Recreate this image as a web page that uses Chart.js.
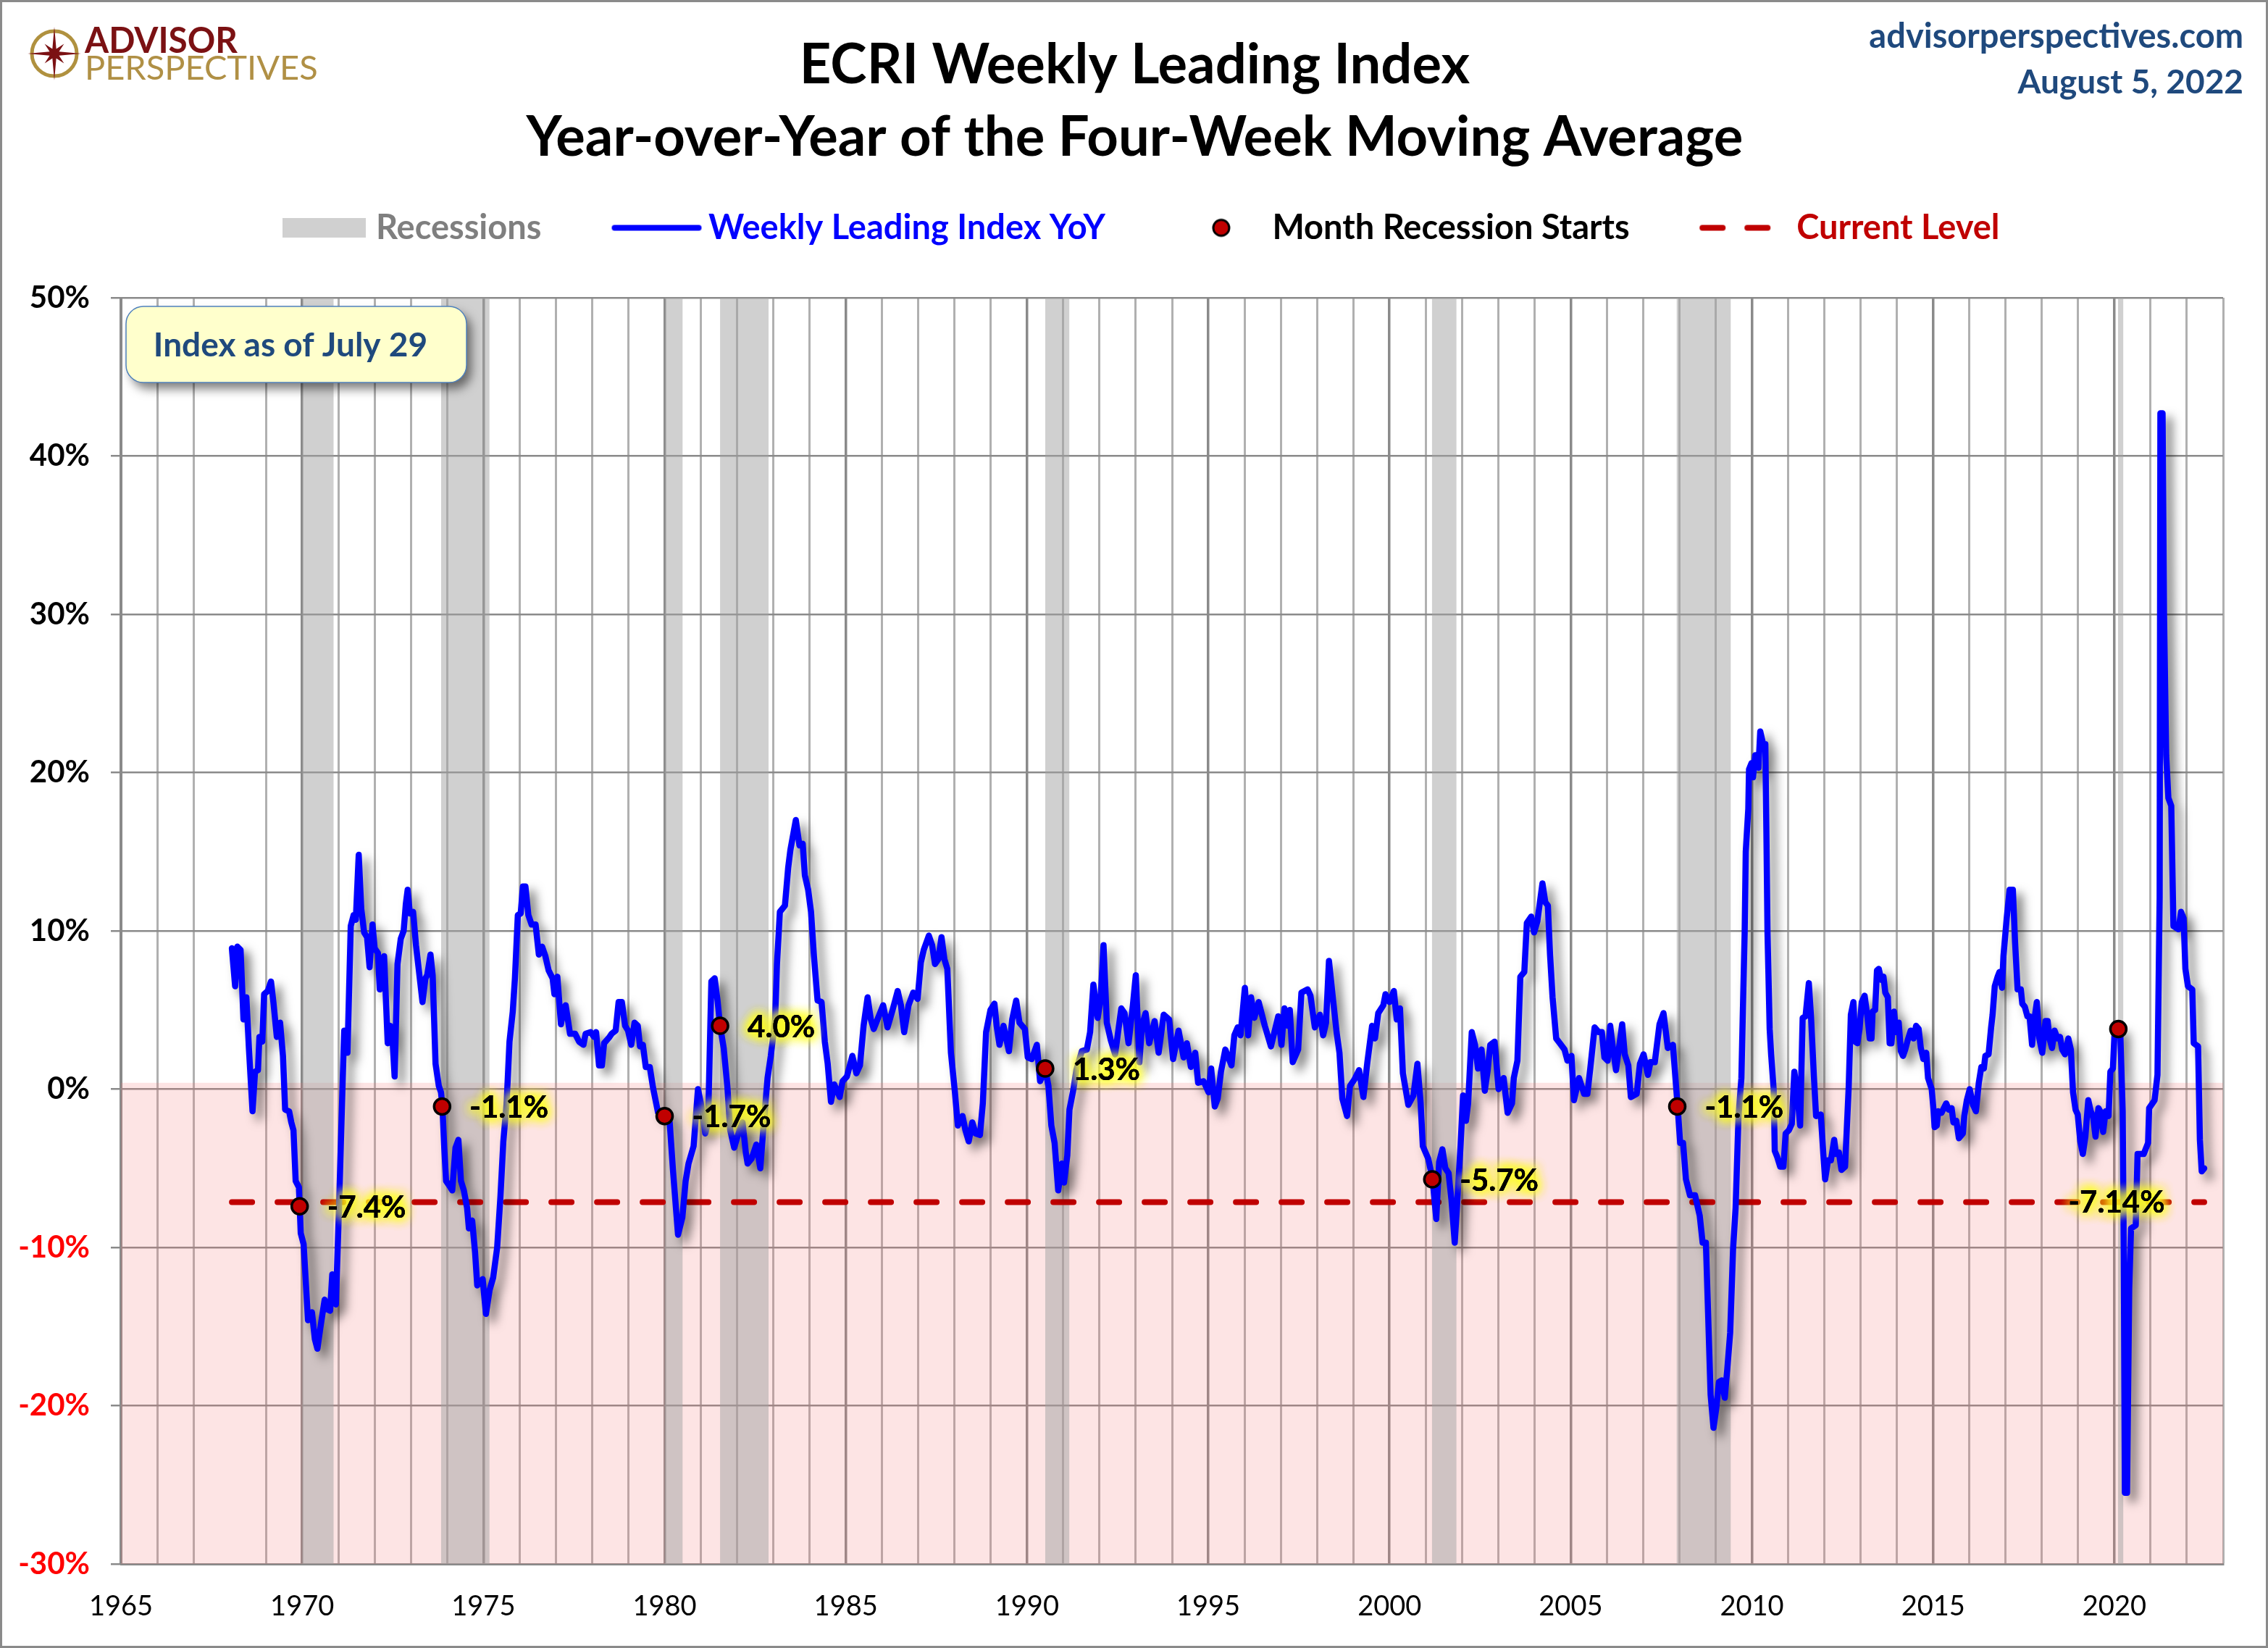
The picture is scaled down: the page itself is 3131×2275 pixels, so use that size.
<!DOCTYPE html>
<html><head><meta charset="utf-8">
<style>html,body{margin:0;padding:0;background:#fff}canvas{display:block}</style>
<script src="https://cdn.jsdelivr.net/npm/chart.js@4/dist/chart.umd.min.js"></script>
</head><body>
<canvas id="c" width="3131" height="2275"></canvas>
<script>
const titleLines = ['ECRI Weekly Leading Index', 'Year-over-Year of the Four-Week Moving Average'];
const legendNames = ['Recessions', 'Weekly Leading Index YoY', 'Month Recession Starts', 'Current Level'];
const noteText = 'Index as of July 29';
const siteLines = ['advisorperspectives.com', 'August 5, 2022'];
const logoLines = ['ADVISOR', 'PERSPECTIVES'];

const recessionStarts = [1970.0, 1973.83, 1980.0, 1981.53, 1990.5, 2001.17, 2007.92, 2020.1];
const recessionEnds   = [1970.87, 1975.17, 1980.5, 1982.87, 1991.17, 2001.85, 2009.42, 2020.25];

const markerYears  = [1969.93, 1973.86, 1980.0, 1981.53, 1990.5, 2001.18, 2007.94, 2020.11];
const markerValues = [-7.4, -1.1, -1.7, 4.0, 1.3, -5.7, -1.1, 3.8];
const markerLabels = ['-7.4%', '-1.1%', '-1.7%', '4.0%', '1.3%', '-5.7%', '-1.1%', ''];

const currentLevel = -7.14;
const currentLabel = '-7.14%';
const currentSpan = [1968.06, 2022.48];

const wliYears = [
1968.06,1968.15,1968.21,1968.30,1968.38,1968.46,1968.53,1968.63,1968.70,1968.78,1968.82,1968.90,1968.95,
1969.05,1969.14,1969.21,1969.30,1969.39,1969.47,1969.53,1969.64,1969.70,1969.76,1969.82,1969.91,1969.96,
1970.04,1970.16,1970.27,1970.35,1970.42,1970.50,1970.62,1970.68,1970.77,1970.83,1970.93,
1971.02,1971.14,1971.16,1971.25,1971.34,1971.42,1971.48,1971.56,1971.63,1971.71,1971.79,1971.86,1971.94,1972.00,
1972.09,1972.14,1972.26,1972.36,1972.43,1972.48,1972.55,1972.63,1972.72,1972.80,1972.86,1972.91,1972.97,
1973.06,1973.14,1973.22,1973.32,1973.40,1973.45,1973.54,1973.60,1973.68,1973.77,1973.83,1973.87,1973.92,1973.97,
1974.06,1974.14,1974.23,1974.31,1974.38,1974.46,1974.55,1974.60,1974.69,1974.77,1974.83,1974.98,
1975.07,1975.17,1975.27,1975.38,1975.47,1975.55,1975.64,1975.72,1975.81,1975.87,1975.95,
1976.03,1976.09,1976.16,1976.24,1976.33,1976.44,1976.53,1976.62,1976.71,1976.80,1976.91,1976.96,
1977.04,1977.14,1977.22,1977.27,1977.39,1977.53,1977.64,1977.76,1977.82,1977.96,
1978.05,1978.11,1978.19,1978.27,1978.33,1978.48,1978.54,1978.65,1978.73,1978.82,1978.91,1978.99,
1979.08,1979.17,1979.26,1979.32,1979.40,1979.48,1979.59,1979.68,1979.82,
1980.03,1980.14,1980.23,1980.37,1980.49,1980.58,1980.66,1980.80,1980.92,
1981.00,1981.12,1981.20,1981.29,1981.38,1981.46,1981.53,1981.63,1981.73,1981.81,1981.92,
1982.01,1982.15,1982.24,1982.29,1982.40,1982.53,1982.64,1982.72,1982.84,1982.93,
1983.05,1983.10,1983.18,1983.32,1983.41,1983.47,1983.62,1983.72,1983.81,1983.87,1983.96,
1984.04,1984.12,1984.22,1984.33,1984.42,1984.50,1984.59,1984.68,1984.83,1984.91,
1985.03,1985.18,1985.29,1985.39,1985.49,1985.60,1985.69,1985.77,1985.89,
1986.03,1986.15,1986.29,1986.43,1986.52,1986.61,1986.73,1986.86,1986.98,
1987.07,1987.15,1987.29,1987.38,1987.46,1987.55,1987.64,1987.72,1987.80,1987.90,
1988.01,1988.09,1988.22,1988.30,1988.39,1988.49,1988.58,1988.70,1988.78,1988.87,1988.99,
1989.10,1989.16,1989.24,1989.35,1989.50,1989.59,1989.70,1989.79,1989.94,
1990.02,1990.13,1990.27,1990.36,1990.50,1990.59,1990.67,1990.76,1990.86,1990.96,
1991.02,1991.11,1991.17,1991.28,1991.36,1991.51,1991.65,1991.74,1991.83,1991.95,
1992.03,1992.11,1992.20,1992.31,1992.43,1992.60,1992.69,1992.80,1992.92,
1993.00,1993.10,1993.17,1993.27,1993.37,1993.52,1993.63,1993.77,1993.92,
1994.03,1994.18,1994.32,1994.41,1994.52,1994.64,1994.72,1994.87,
1995.01,1995.08,1995.18,1995.26,1995.35,1995.47,1995.64,1995.72,1995.81,1995.89,
1996.01,1996.10,1996.18,1996.27,1996.39,1996.56,1996.73,1996.93,
1997.02,1997.10,1997.19,1997.25,1997.33,1997.48,1997.57,1997.74,1997.82,1997.94,
1998.08,1998.17,1998.25,1998.33,1998.45,1998.54,1998.62,1998.70,1998.83,1998.91,
1999.03,1999.16,1999.28,1999.39,1999.52,1999.60,1999.69,1999.83,1999.89,
2000.00,2000.12,2000.20,2000.29,2000.37,2000.52,2000.66,2000.77,2000.86,2000.92,
2001.07,2001.19,2001.29,2001.37,2001.46,2001.54,2001.63,2001.71,2001.80,2001.86,2001.96,
2002.03,2002.11,2002.17,2002.27,2002.36,2002.44,2002.54,2002.63,2002.71,2002.78,2002.90,
2003.01,2003.15,2003.26,2003.38,2003.43,2003.53,2003.61,2003.72,2003.79,2003.91,2003.99,
2004.08,2004.22,2004.30,2004.37,2004.43,2004.50,2004.60,2004.70,2004.83,2004.91,
2005.02,2005.09,2005.23,2005.37,2005.46,2005.54,2005.66,2005.77,2005.86,2005.93,
2006.02,2006.09,2006.17,2006.25,2006.42,2006.49,2006.59,2006.66,2006.82,2006.91,
2007.01,2007.13,2007.20,2007.32,2007.45,2007.56,2007.68,2007.82,2007.95,
2008.02,2008.10,2008.18,2008.29,2008.43,2008.56,2008.64,2008.73,2008.79,2008.86,2008.94,
2009.02,2009.09,2009.17,2009.25,2009.32,2009.40,2009.48,2009.55,2009.63,2009.71,2009.75,2009.80,2009.83,2009.90,2009.92,2009.99,
2010.03,2010.09,2010.18,2010.23,2010.31,2010.37,2010.40,2010.43,2010.49,2010.53,2010.60,2010.63,2010.70,2010.78,2010.87,2010.93,
2011.02,2011.10,2011.17,2011.25,2011.33,2011.40,2011.48,2011.57,2011.63,2011.71,2011.77,2011.90,2011.97,
2012.02,2012.10,2012.18,2012.27,2012.32,2012.40,2012.47,2012.57,2012.67,2012.73,2012.80,2012.85,2012.91,2012.97,
2013.03,2013.11,2013.19,2013.25,2013.30,2013.33,2013.40,2013.45,2013.50,2013.57,2013.63,2013.68,2013.75,2013.80,2013.85,2013.92,2013.98,
2014.05,2014.11,2014.17,2014.23,2014.30,2014.38,2014.46,2014.53,2014.60,2014.66,2014.73,2014.81,2014.86,2014.96,
2015.01,2015.04,2015.10,2015.14,2015.23,2015.36,2015.43,2015.51,2015.56,2015.64,2015.71,2015.82,2015.86,2015.93,
2016.01,2016.10,2016.18,2016.26,2016.33,2016.40,2016.44,2016.53,2016.60,2016.64,2016.70,2016.78,2016.83,2016.90,2016.94,
2017.03,2017.11,2017.20,2017.26,2017.33,2017.42,2017.46,2017.53,2017.60,2017.66,2017.73,2017.80,2017.86,2017.93,
2018.01,2018.10,2018.16,2018.21,2018.28,2018.35,2018.43,2018.50,2018.56,2018.64,2018.73,2018.80,2018.86,2018.93,2018.99,
2019.06,2019.13,2019.20,2019.28,2019.35,2019.41,2019.48,2019.56,2019.61,2019.69,2019.76,2019.84,2019.89,2019.96,
2020.01,2020.11,2020.16,2020.23,2020.26,2020.29,2020.35,2020.41,2020.46,2020.59,2020.64,2020.81,2020.93,2020.96,
2021.11,2021.19,2021.25,2021.27,2021.33,2021.37,2021.43,2021.49,2021.57,2021.63,2021.77,2021.84,2021.91,2021.96,
2022.03,2022.15,2022.19,2022.31,2022.36,2022.41,2022.48
];
const wliValues = [
8.9,6.5,9.0,8.8,4.4,5.8,2.6,-1.4,1.1,1.2,3.3,3.0,6.0,
6.2,6.8,5.4,3.3,4.2,2.1,-1.3,-1.4,-2.1,-2.6,-5.8,-6.2,-9.1,
-9.8,-14.6,-14.1,-15.8,-16.4,-15.1,-13.3,-13.9,-14.0,-11.7,-13.6,
-7.2,2.3,3.7,2.3,10.3,11.0,10.7,14.8,11.4,9.9,9.6,7.7,10.4,8.9,
8.6,6.3,8.4,2.9,4.0,3.7,0.8,7.9,9.5,10.0,11.7,12.6,11.1,
11.2,9.1,7.5,5.5,7.0,7.2,8.5,7.2,1.6,0.2,-0.2,-1.1,-3.7,-5.8,
-6.1,-6.4,-3.7,-3.2,-5.8,-6.4,-7.5,-8.8,-8.3,-10.3,-12.4,-12.0,
-14.2,-12.7,-11.9,-10.0,-6.8,-3.3,-0.9,3.0,4.9,7.0,11.0,
11.1,12.8,12.8,11.0,10.4,10.4,8.5,9.0,8.4,7.5,7.0,6.0,
7.1,4.1,5.1,5.3,3.5,3.5,3.0,2.8,3.5,3.6,
3.3,3.6,1.5,1.5,2.9,3.3,3.5,3.7,5.5,5.5,4.0,3.7,
2.8,4.2,4.0,2.7,2.8,1.4,1.4,0.1,-1.5,
-1.6,-2.1,-5.1,-9.2,-8.1,-5.8,-4.7,-3.6,0.0,
-0.9,-2.8,-2.1,6.8,7.0,5.6,4.0,2.6,0.2,-2.6,-3.7,
-3.0,-2.1,-4.0,-4.7,-4.4,-3.5,-5.0,-2.6,0.7,2.1,
4.4,7.9,11.2,11.6,14.0,15.1,17.0,15.4,15.5,13.5,12.6,
11.2,8.4,5.6,5.5,3.0,1.6,-0.8,0.3,-0.5,0.5,
0.8,2.1,1.0,1.5,4.0,5.8,4.4,3.8,4.5,
5.3,3.9,5.0,6.2,5.3,3.6,5.3,6.1,5.7,
8.0,8.8,9.7,9.1,7.9,8.2,9.6,8.2,7.6,2.3,
-0.2,-2.3,-1.7,-2.6,-3.3,-2.1,-2.8,-2.9,-0.9,3.6,5.0,
5.4,4.0,2.8,4.0,2.4,4.4,5.6,4.2,3.8,
2.0,1.9,2.8,0.5,1.3,0.2,-2.3,-3.4,-6.4,-4.7,
-5.9,-4.2,-1.3,0.0,1.2,2.4,2.5,3.6,6.6,4.5,
5.7,9.1,4.2,3.1,2.2,5.1,4.8,2.9,5.3,
7.2,1.7,4.0,4.8,2.9,4.3,2.3,4.7,4.4,
1.9,3.7,2.0,2.9,1.4,2.3,0.4,0.5,
-0.2,1.3,-1.1,-0.6,1.1,2.5,1.5,3.4,3.9,3.4,
6.4,3.4,5.8,4.5,5.5,4.0,2.7,4.6,
2.8,5.1,4.0,5.0,1.7,2.5,6.1,6.3,5.9,3.9,
4.7,3.4,4.2,8.1,5.5,3.6,2.3,-0.6,-1.7,0.2,
0.6,1.2,-0.5,1.7,4.0,3.2,4.8,5.3,6.0,
5.5,6.2,4.4,5.1,1.0,-1.0,-0.4,1.6,-0.9,-3.6,
-4.4,-5.7,-8.2,-4.6,-3.8,-5.0,-5.3,-7.0,-9.7,-7.5,-3.6,
-0.4,-2.0,-0.9,3.6,2.8,1.3,2.5,-0.1,1.2,2.8,3.0,
0.0,0.7,-1.5,-0.9,0.7,1.8,7.1,7.4,10.5,10.9,9.9,
10.6,13.0,11.8,11.6,8.5,5.8,3.2,2.9,2.5,1.8,
2.1,-0.7,0.7,-0.3,-0.3,1.3,3.9,3.6,3.6,2.0,
1.8,4.0,2.5,1.2,4.1,2.2,1.5,-0.5,-0.3,1.6,
2.2,0.9,1.7,1.7,4.1,4.8,2.6,2.8,-1.1,
-3.4,-3.4,-5.7,-6.7,-6.7,-8.0,-9.7,-9.7,-14.1,-19.3,-21.4,
-20.1,-18.5,-18.4,-19.5,-17.7,-15.4,-10.1,-7.5,-1.7,0.7,4.9,9.9,15.0,17.7,20.2,20.6,
19.7,21.1,20.3,22.6,21.8,21.8,16.1,9.9,3.8,2.2,0.0,-3.9,-4.3,-4.9,-4.9,-2.8,
-2.6,-2.2,1.1,-0.2,-2.3,4.5,4.6,6.7,4.6,0.8,-1.7,-1.6,-4.1,
-5.7,-4.5,-4.5,-3.2,-4.1,-4.0,-5.1,-4.9,0.1,4.7,5.5,3.0,2.9,3.8,
5.5,5.9,4.5,3.2,3.2,4.9,5.0,7.5,7.6,6.9,7.1,6.1,5.8,2.9,2.9,4.9,3.6,
4.2,2.4,2.1,2.5,3.1,3.7,3.2,4.0,3.8,2.6,1.9,2.3,0.7,0.0,
-1.3,-2.4,-2.3,-1.4,-1.5,-0.9,-1.3,-1.2,-2.1,-2.0,-3.1,-2.8,-1.7,-0.7,
0.0,-1.0,-1.4,0.4,1.4,1.3,2.1,2.2,3.9,4.7,6.5,7.1,7.4,6.4,8.4,
10.8,12.6,12.6,9.3,6.3,6.3,5.4,5.2,4.6,4.6,2.8,4.5,5.5,3.2,
2.3,4.3,4.3,3.2,2.6,3.7,3.2,3.3,2.5,2.2,3.2,2.5,-0.2,-1.3,-1.6,
-3.3,-4.1,-3.0,-0.7,-1.4,-1.7,-3.0,-1.2,-1.4,-2.7,-1.4,-1.7,1.1,1.3,
3.8,3.8,3.8,-1.4,-10.4,-25.5,-25.5,-12.6,-8.8,-8.6,-4.1,-4.1,-3.4,-1.2,
-0.7,0.9,12.1,42.7,42.7,30.1,21.1,18.4,17.9,10.3,10.1,11.2,10.8,7.6,
6.5,6.3,2.9,2.7,-3.2,-5.2,-5.0
];

const pinkTop = 0.4;
const xRange = [1965, 2023];
const yRange = [-30, 50];

const recessionPoints = [];
recessionStarts.forEach((s, i) => {
  recessionPoints.push({x: s, y: yRange[1]}, {x: recessionEnds[i], y: yRange[1]}, {x: recessionEnds[i], y: null});
});

function swatch(w, h, draw) {
  const c = document.createElement('canvas');
  c.width = w; c.height = h;
  draw(c.getContext('2d'), w, h);
  return c;
}
const swatches = [
  swatch(123, 27, (g, w, h) => { g.fillStyle = '#d0d0d0'; g.fillRect(8, 0, 115, h); }),
  swatch(134, 12, (g, w, h) => { g.strokeStyle = '#0000ff'; g.lineWidth = 8; g.lineCap = 'round'; g.beginPath(); g.moveTo(13, 6); g.lineTo(129, 6); g.stroke(); }),
  swatch(40, 30, g => { g.fillStyle = '#c00000'; g.strokeStyle = '#000'; g.lineWidth = 3; g.beginPath(); g.arc(25, 15, 11, 0, Math.PI * 2); g.fill(); g.stroke(); }),
  swatch(125, 12, g => { g.fillStyle = '#c00000'; [4, 66].forEach(x => { g.beginPath(); g.roundRect(x, 2, 36, 8, 4); g.fill(); }); })
];
const legendColors = ['#7f7f7f', '#0000ff', '#000000', '#c00000'];

const FONT = 'Lato, Carlito, sans-serif';

const framePlugin = {
  id: 'frame',
  beforeDraw(chart) {
    const g = chart.ctx;
    g.save();
    g.fillStyle = '#fff'; g.fillRect(0, 0, chart.width, chart.height);
    g.strokeStyle = '#8a8a8a'; g.lineWidth = 6; g.strokeRect(0, 0, chart.width, chart.height);
    g.restore();
  }
};

const legendFit = {
  id: 'legendFit',
  beforeLayout(chart) {
    const l = chart.legend;
    if (l && !l._fitWrapped) {
      const f = l.fit;
      l.fit = function () { f.call(this); this.height = 223; };
      l._fitWrapped = true;
    }
  },
  afterLayout(chart) {
    chart.legend.left -= 42; chart.legend.right -= 42;
    chart.titleBlock.left += 32; chart.titleBlock.right += 32;
  }
};

const lineShadow = {
  id: 'lineShadow',
  beforeDatasetDraw(chart, args) {
    if (chart.data.datasets[args.index].label === legendNames[1]) {
      const g = chart.ctx; g.save();
      g.shadowColor = 'rgba(0,0,0,0.5)'; g.shadowBlur = 14; g.shadowOffsetX = 9; g.shadowOffsetY = 9;
    }
  },
  afterDatasetDraw(chart, args) {
    if (chart.data.datasets[args.index].label === legendNames[1]) chart.ctx.restore();
  }
};

function glowText(g, text, x, y, align) {
  g.save();
  g.font = 'bold 42px ' + FONT;
  g.textAlign = align; g.textBaseline = 'middle';
  g.shadowColor = '#ffff20'; g.shadowBlur = 16; g.fillStyle = '#000';
  for (let i = 0; i < 5; i++) g.fillText(text, x, y);
  g.shadowColor = 'transparent';
  g.fillText(text, x, y);
  g.restore();
}

const annotations = {
  id: 'annotations',
  afterDatasetsDraw(chart) {
    const g = chart.ctx, sx = chart.scales.x, sy = chart.scales.y;
    markerLabels.forEach((t, i) => {
      if (t) glowText(g, t, sx.getPixelForValue(markerYears[i]) + 38, sy.getPixelForValue(markerValues[i]) + 2, 'left');
    });
    glowText(g, currentLabel, 2922, sy.getPixelForValue(currentLevel) + 1, 'center');
  },
  afterDraw(chart) {
    const g = chart.ctx;
    // note box
    g.save();
    g.beginPath(); g.roundRect(174, 423, 470, 105, 24);
    g.shadowColor = 'rgba(0,0,0,0.5)'; g.shadowBlur = 14; g.shadowOffsetX = 7; g.shadowOffsetY = 9;
    g.fillStyle = '#ffffcc'; g.fill();
    g.shadowColor = 'transparent';
    g.strokeStyle = '#4f81bd'; g.lineWidth = 1.5; g.stroke();
    g.fillStyle = '#1f497d'; g.font = 'bold 46px ' + FONT; g.textAlign = 'center'; g.textBaseline = 'middle';
    g.fillText(noteText, 401, 477);
    g.restore();
    // site and date
    g.save();
    g.fillStyle = '#1f497d'; g.font = 'bold 47px ' + FONT; g.textAlign = 'right'; g.textBaseline = 'alphabetic';
    g.fillText(siteLines[0], 3097, 66);
    g.font = 'bold 46px ' + FONT;
    g.fillText(siteLines[1], 3097, 129);
    g.restore();
    // logo
    g.save();
    g.strokeStyle = '#b0913f'; g.lineWidth = 5;
    g.beginPath(); g.arc(75, 74, 31, 0, Math.PI * 2); g.stroke();
    g.fillStyle = '#7b1113';
    const cx = 75, cy = 74, R = 37, r = 19, q = 7;
    g.beginPath();
    for (let i = 0; i < 16; i++) {
      const a = i * Math.PI / 8 - Math.PI / 2;
      const d = i % 4 === 0 ? R : (i % 2 === 0 ? r : q);
      const px = cx + d * Math.cos(a), py = cy + d * Math.sin(a);
      if (i === 0) g.moveTo(px, py); else g.lineTo(px, py);
    }
    g.closePath(); g.fill();
    g.textAlign = 'left'; g.textBaseline = 'alphabetic';
    g.font = 'bold 49px ' + FONT; g.fillStyle = '#7b1113';
    g.fillText(logoLines[0], 117, 73, 211);
    g.font = '400 47px ' + FONT; g.fillStyle = '#b09045';
    g.fillText(logoLines[1], 117, 110, 322);
    g.restore();
  }
};

new Chart(document.getElementById('c'), {
  type: 'line',
  plugins: [framePlugin, legendFit, lineShadow, annotations],
  data: {
    datasets: [
      { label: 'band', data: [{x: xRange[0], y: pinkTop}, {x: xRange[1], y: pinkTop}], order: 5,
        borderWidth: 0, pointRadius: 0, fill: 'start', backgroundColor: 'rgba(245,120,120,0.2)' },
      { label: legendNames[0], data: recessionPoints, order: 4, spanGaps: false,
        borderWidth: 0, pointRadius: 0, fill: 'start', backgroundColor: 'rgba(161,161,161,0.5)' },
      { label: legendNames[3], data: currentSpan.map(x => ({x, y: currentLevel})), order: 3,
        borderColor: '#c00000', borderWidth: 8, borderDash: [28, 35], borderCapStyle: 'round', pointRadius: 0, fill: false },
      { label: legendNames[1], data: wliYears.map((x, i) => ({x, y: wliValues[i]})), order: 2,
        borderColor: '#0000ff', borderWidth: 8.5, borderJoinStyle: 'round', borderCapStyle: 'round', tension: 0, pointRadius: 0, fill: false },
      { label: legendNames[2], data: markerYears.map((x, i) => ({x, y: markerValues[i]})), order: 1,
        showLine: false, pointRadius: 11, pointBorderWidth: 3.5, pointBackgroundColor: '#c00000', pointBorderColor: '#000' }
    ]
  },
  options: {
    responsive: false,
    animation: false,
    devicePixelRatio: 1,
    layout: { padding: { left: 0, right: 62, top: 0, bottom: 0 } },
    plugins: {
      tooltip: { enabled: false },
      title: {
        display: true, text: titleLines, color: '#000', fullSize: true,
        font: { family: FONT, size: 76, weight: 'bold', lineHeight: '100px' },
        padding: { top: 40, bottom: -52 }
      },
      legend: {
        display: true, position: 'top', fullSize: false,
        labels: {
          usePointStyle: true, pointStyleWidth: 104, boxHeight: 30, padding: 103,
          font: { family: FONT, size: 47, weight: 'bold' },
          generateLabels: () => legendNames.map((text, i) => ({
            text, fontColor: legendColors[i], pointStyle: swatches[i], lineWidth: 0, hidden: false
          }))
        }
      }
    },
    scales: {
      x: {
        type: 'linear', min: xRange[0], max: xRange[1],
        afterFit(s) { s.height = 116; },
        afterBuildTicks(s) { s.ticks = []; for (let y = xRange[0]; y <= xRange[1]; y++) s.ticks.push({value: y}); },
        grid: {
          drawTicks: false,
          color: c => c.tick.value === 1968 ? 'transparent' : (c.tick.value % 5 === 0 ? '#8a8a8a' : '#b0b0b0'),
          lineWidth: c => c.tick.value % 5 === 0 ? 3.5 : 3
        },
        border: { color: '#8a8a8a', width: 3 },
        ticks: {
          autoSkip: false, maxRotation: 0, minRotation: 0, padding: 36, color: '#000',
          font: { family: FONT, size: 38 },
          callback: v => v % 5 === 0 ? String(v) : ''
        }
      },
      y: {
        min: yRange[0], max: yRange[1],
        afterFit(s) { s.width = 167; },
        grid: { color: '#8a8a8a', lineWidth: 2.5, tickLength: 14 },
        border: { color: '#8a8a8a', width: 3 },
        ticks: {
          stepSize: 10, padding: 29,
          color: c => c.tick.value < 0 ? '#ff0000' : '#000',
          font: { family: FONT, size: 42, weight: 'bold' },
          callback: v => v + '%'
        }
      }
    }
  }
});
</script>
</body></html>
